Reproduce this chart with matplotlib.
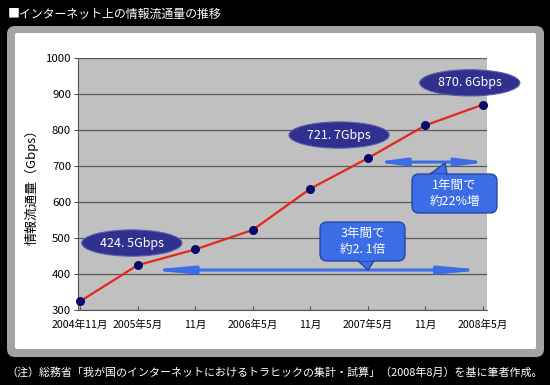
import matplotlib
matplotlib.use("Agg")
import matplotlib.pyplot as plt
from matplotlib.patches import Ellipse, FancyBboxPatch, FancyArrowPatch, Polygon

plt.rcParams['font.family'] = ['Noto Sans CJK JP', 'DejaVu Sans']

# data
periods = ['2004年11月', '2005年5月', '11月', '2006年5月', '11月', '2007年5月', '11月', '2008年5月']
traffic = [324.0, 424.5, 468.2, 522.4, 636.9, 721.7, 812.9, 870.6]
yticks = [300, 400, 500, 600, 700, 800, 900, 1000]
labelled = {1: '424. 5Gbps', 5: '721. 7Gbps', 7: '870. 6Gbps'}

W, H = 550, 385
fig = plt.figure(figsize=(W / 100, H / 100), dpi=100)
fig.patch.set_facecolor('black')

# background frame (pixel coords)
bg = fig.add_axes([0, 0, 1, 1], zorder=-1)
bg.set_xlim(0, W)
bg.set_ylim(H, 0)
bg.axis('off')
bg.add_patch(FancyBboxPatch((7, 26), 537, 331, boxstyle='round,pad=0,rounding_size=8',
                            facecolor='#a3a3a3', edgecolor='none'))
bg.add_patch(FancyBboxPatch((15, 33), 521, 316, boxstyle='round,pad=0,rounding_size=2',
                            facecolor='white', edgecolor='none'))
bg.text(8, 14, '■インターネット上の情報流通量の推移', color='white', fontsize=8.6,
        va='center', ha='left')
bg.text(275, 372, '（注）総務省「我が国のインターネットにおけるトラヒックの集計・試算」（2008年8月）を基に筆者作成。',
        color='white', fontsize=7.9, va='center', ha='center')

# main chart
ax = fig.add_axes([78 / W, 1 - 310 / H, 409 / W, 252 / H])
ax.set_facecolor('#c0c0c0')
x = list(range(len(periods)))
ax.set_xlim(-0.035, 7.07)
ax.set_ylim(300, 1000)
ax.set_yticks(yticks)
ax.yaxis.grid(True, color='#5a5a5a', linewidth=0.9)
ax.set_axisbelow(True)
ax.set_xticks(x)
ax.set_xticklabels(periods, fontsize=7.6)
ax.tick_params(axis='y', labelsize=8.2, length=3, pad=2, color='#555555')
ax.tick_params(axis='x', direction='in', length=3, pad=7, color='#555555')
for s in ['top', 'right']:
    ax.spines[s].set_visible(False)
for s in ['left', 'bottom']:
    ax.spines[s].set_color('#555555')
ax.set_ylabel('情報流通量（Gbps）', fontsize=9.4, labelpad=5)

ax.plot(x, traffic, color='#e4261c', linewidth=1.6, marker='o', markersize=5.5,
        markerfacecolor='#0a0a6e', markeredgecolor='#0a0a6e', zorder=3, clip_on=False)

# value bubbles
bubble_pos = {1: (0.90, 486), 5: (4.50, 786), 7: (6.77, 931)}
for i, txt in labelled.items():
    cx, cy = bubble_pos[i]
    ax.add_patch(Ellipse((cx, cy), 1.74, 73, facecolor='#30308e', edgecolor='#5b5bb0',
                         linewidth=0.8, zorder=4, clip_on=False))
    ax.text(cx, cy, txt, color='white', fontsize=9, ha='center', va='center', zorder=5)

# span arrows
blue = '#3b6ee6'
for x0, x1, yy, hl in [(1.18, 7.03, 411, 24), (5.12, 7.08, 711, 17)]:
    ax.add_patch(FancyArrowPatch((x0, yy), (x1, yy),
                                 arrowstyle='<|-|>,head_length=%d,head_width=2.2' % hl,
                                 mutation_scale=1, color=blue, linewidth=2.2,
                                 zorder=4, clip_on=False, shrinkA=0, shrinkB=0))

# callouts (pixel coords overlay)
ov = fig.add_axes([0, 0, 1, 1], zorder=3)
ov.set_xlim(0, W)
ov.set_ylim(H, 0)
ov.axis('off')
ov.patch.set_alpha(0)
callouts = [((320, 222, 85, 39), [(358, 261), (368, 270), (374, 261)], '3年間で\n約2. 1倍'),
            ((412, 174, 85, 39), [(430, 174), (445, 163), (447, 174)], '1年間で\n約22%増')]
edge = '#1f3f9e'
for (bx, by, bw, bh), tail, txt in callouts:
    ov.add_patch(FancyBboxPatch((bx, by), bw, bh, boxstyle='round,pad=0,rounding_size=7',
                                facecolor=blue, edgecolor=edge, linewidth=0.9))
    ov.add_patch(Polygon(tail, closed=True, facecolor=blue, edgecolor=edge, linewidth=0.9))
    # cover the seam between box and tail
    (ax0, ay0), tip, (ax1, ay1) = tail
    d = 2 if tip[1] > ay0 else -2
    ov.add_patch(Polygon([(ax0 + 1, ay0 - d), (ax0 + 1.2, ay0), (ax1 - 1.2, ay1), (ax1 - 1, ay1 - d)],
                         closed=True, facecolor=blue, edgecolor='none'))
    ov.text(bx + bw / 2, by + bh / 2, txt, color='white', fontsize=9, ha='center',
            va='center', linespacing=1.25)

fig.savefig('out.png', dpi=100, facecolor=fig.get_facecolor())
